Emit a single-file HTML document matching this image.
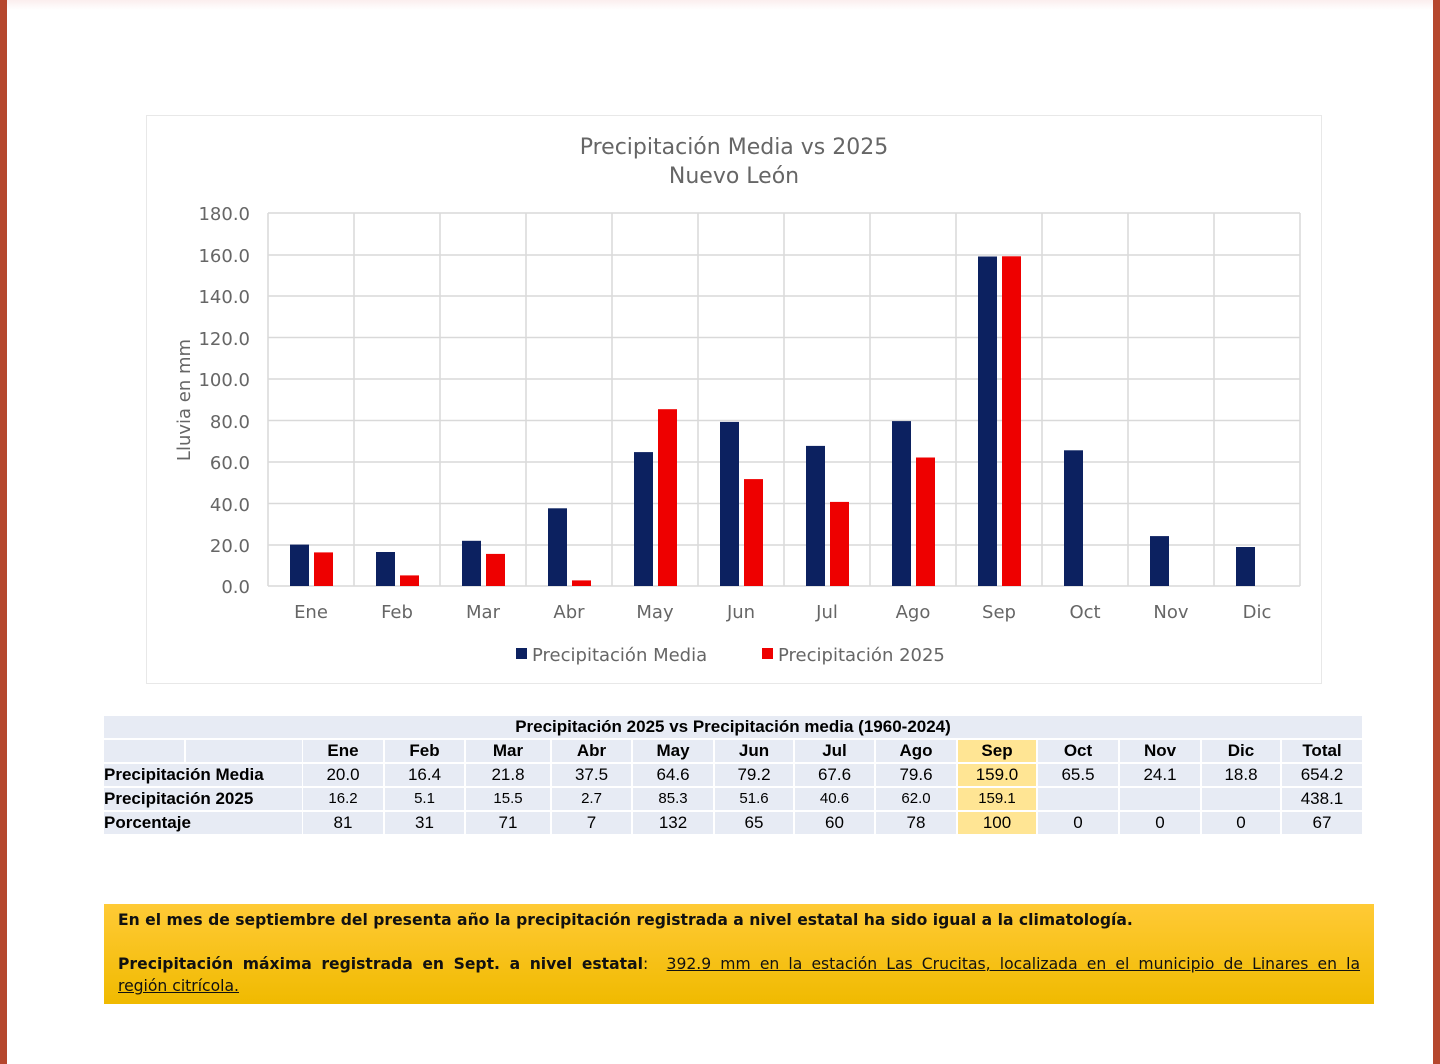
<!DOCTYPE html>
<html><head><meta charset="utf-8"><style>
body{margin:0;width:1440px;height:1064px;background:#fff;position:relative;overflow:hidden;font-family:"Liberation Sans",sans-serif}
.bl{position:absolute;left:0;top:0;width:7px;height:1064px;background:#b5472e}
.br{position:absolute;left:1433px;top:0;width:7px;height:1064px;background:#b5472e}
.tb{position:absolute;left:7px;top:0;width:1426px;height:10px;background:linear-gradient(#fbeeee,#fff)}
.c{position:absolute;background:#e7ebf4;font-size:17px;color:#000;text-align:center;line-height:22px;height:22px;transform-origin:center}
.b{font-weight:bold}
.y{background:#ffe594}
.box{position:absolute;left:104px;top:904px;width:1270px;height:100px;background:linear-gradient(#ffca36,#f0ba00);font-size:15.6px;color:#111;font-family:"DejaVu Sans",sans-serif}
</style></head><body>
<div class="bl"></div><div class="br"></div><div class="tb"></div>
<svg style="position:absolute;left:0;top:0" width="1440" height="700" font-family="DejaVu Sans, sans-serif">
<rect x="146.5" y="115.5" width="1175" height="568" fill="#fff" stroke="#e8e8e8"/>
<text x="734" y="154" text-anchor="middle" font-size="22" fill="#666">Precipitación Media vs 2025</text>
<text x="734" y="183" text-anchor="middle" font-size="22" fill="#666">Nuevo León</text>
<g stroke="#d9d9d9" stroke-width="1.5">
<line x1="268" x2="1300" y1="213" y2="213"/><line x1="268" x2="1300" y1="255" y2="255"/><line x1="268" x2="1300" y1="296" y2="296"/><line x1="268" x2="1300" y1="337.5" y2="337.5"/><line x1="268" x2="1300" y1="379" y2="379"/><line x1="268" x2="1300" y1="420.5" y2="420.5"/><line x1="268" x2="1300" y1="462" y2="462"/><line x1="268" x2="1300" y1="503.5" y2="503.5"/><line x1="268" x2="1300" y1="545" y2="545"/><line x1="268" x2="1300" y1="586" y2="586"/>
<line x1="268" x2="268" y1="213" y2="586"/><line x1="354" x2="354" y1="213" y2="586"/><line x1="440" x2="440" y1="213" y2="586"/><line x1="526" x2="526" y1="213" y2="586"/><line x1="612" x2="612" y1="213" y2="586"/><line x1="698" x2="698" y1="213" y2="586"/><line x1="784" x2="784" y1="213" y2="586"/><line x1="870" x2="870" y1="213" y2="586"/><line x1="956" x2="956" y1="213" y2="586"/><line x1="1042" x2="1042" y1="213" y2="586"/><line x1="1128" x2="1128" y1="213" y2="586"/><line x1="1214" x2="1214" y1="213" y2="586"/><line x1="1300" x2="1300" y1="213" y2="586"/>
</g>
<g font-size="18" fill="#666" text-anchor="end">
<text x="250" y="220">180.0</text><text x="250" y="262">160.0</text><text x="250" y="303">140.0</text><text x="250" y="345">120.0</text><text x="250" y="386">100.0</text><text x="250" y="428">80.0</text><text x="250" y="469">60.0</text><text x="250" y="511">40.0</text><text x="250" y="552">20.0</text><text x="250" y="593">0.0</text>
</g>
<text transform="translate(190,400) rotate(-90)" text-anchor="middle" font-size="18" fill="#666">Lluvia en mm</text>
<g font-size="18" fill="#666" text-anchor="middle">
<text x="311" y="618">Ene</text><text x="397" y="618">Feb</text><text x="483" y="618">Mar</text><text x="569" y="618">Abr</text><text x="655" y="618">May</text><text x="741" y="618">Jun</text><text x="827" y="618">Jul</text><text x="913" y="618">Ago</text><text x="999" y="618">Sep</text><text x="1085" y="618">Oct</text><text x="1171" y="618">Nov</text><text x="1257" y="618">Dic</text>
</g>
<g fill="#0c2160">
<rect x="290" y="544.6" width="19" height="41.4"/><rect x="376" y="552" width="19" height="34"/><rect x="462" y="540.8" width="19" height="45.2"/><rect x="548" y="508.3" width="19" height="77.7"/><rect x="634" y="452.1" width="19" height="133.9"/><rect x="720" y="421.9" width="19" height="164.1"/><rect x="806" y="445.9" width="19" height="140.1"/><rect x="892" y="421.1" width="19" height="164.9"/><rect x="978" y="256.5" width="19" height="329.5"/><rect x="1064" y="450.3" width="19" height="135.7"/><rect x="1150" y="536.1" width="19" height="49.9"/><rect x="1236" y="547" width="19" height="39"/>
</g>
<g fill="#ee0000">
<rect x="314" y="552.4" width="19" height="33.6"/><rect x="400" y="575.4" width="19" height="10.6"/><rect x="486" y="553.9" width="19" height="32.1"/><rect x="572" y="580.4" width="19" height="5.6"/><rect x="658" y="409.2" width="19" height="176.8"/><rect x="744" y="479.1" width="19" height="106.9"/><rect x="830" y="501.9" width="19" height="84.1"/><rect x="916" y="457.5" width="19" height="128.5"/><rect x="1002" y="256.3" width="19" height="329.7"/>
</g>
<rect x="516" y="648" width="11" height="11" fill="#0c2160"/>
<text x="532" y="661" font-size="18" fill="#666">Precipitación Media</text>
<rect x="762" y="648" width="11" height="11" fill="#ee0000"/>
<text x="778" y="661" font-size="18" fill="#666">Precipitación 2025</text>
</svg>

<div class="c b" style="left:104px;top:716px;width:1258px">Precipitación 2025 vs Precipitación media (1960-2024)</div>
<div id="t"></div>
<script>
var cols=[[303,80],[385,79],[466,84],[552,79],[633,80],[715,78],[795,79],[876,80],[958,78],[1038,80],[1120,80],[1202,78],[1282,80]];
var rows=[[740,["Ene","Feb","Mar","Abr","May","Jun","Jul","Ago","Sep","Oct","Nov","Dic","Total"],"",1],
[764,["20.0","16.4","21.8","37.5","64.6","79.2","67.6","79.6","159.0","65.5","24.1","18.8","654.2"],"Precipitación Media",0],
[788,["16.2","5.1","15.5","2.7","85.3","51.6","40.6","62.0","159.1","","","","438.1"],"Precipitación 2025",0],
[812,["81","31","71","7","132","65","60","78","100","0","0","0","67"],"Porcentaje",0]];
var h="";
rows.forEach(function(r,ri){
 if(ri==0){h+='<div class="c" style="left:104px;top:740px;width:80px"></div><div class="c" style="left:186px;top:740px;width:116px"></div>';}
 else h+='<div class="c b" style="left:104px;top:'+r[0]+'px;width:198px;text-align:left">'+r[2]+'</div>';
 cols.forEach(function(c,i){
  var fs=(ri==2&&i<12)?15:17;
  h+='<div class="c'+(r[3]?' b':'')+(i==8?' y':'')+'" style="left:'+c[0]+'px;top:'+r[0]+'px;width:'+c[1]+'px;font-size:'+fs+'px">'+r[1][i]+'</div>';
 });
});
document.getElementById("t").innerHTML=h;
</script>
<div class="box">
<div style="position:absolute;left:14px;top:7px;font-weight:bold;white-space:nowrap">En el mes de septiembre del presenta año la precipitación registrada a nivel estatal ha sido igual a la climatología.</div>
<div style="position:absolute;left:14px;top:49px;width:1242px;text-align:justify;text-align-last:justify;line-height:22px;white-space:nowrap"><b>Precipitación máxima registrada en Sept. a nivel estatal</b>:&nbsp; <u>392.9 mm en la estación Las Crucitas, localizada en el municipio de Linares en la</u></div>
<div style="position:absolute;left:14px;top:71px;line-height:22px"><u>región citrícola.</u></div>
</div>
</body></html>
